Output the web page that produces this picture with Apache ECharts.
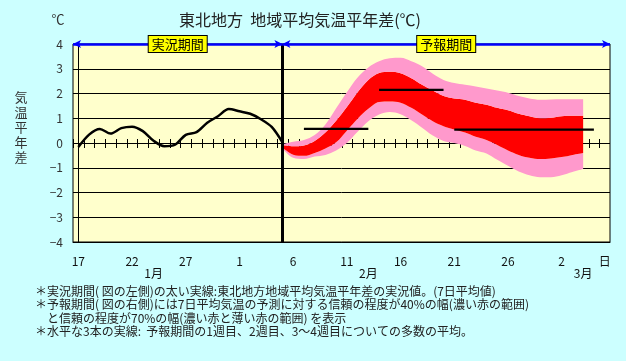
<!DOCTYPE html>
<html><head><meta charset="utf-8">
<script src="https://cdn.jsdelivr.net/npm/echarts@6/dist/echarts.min.js"></script>
<style>html,body{margin:0;padding:0;background:#CCFFFF}#c{width:626px;height:361px}</style>
</head><body><div id="c"></div>
<script>
const categories = ['1/17','1/18','1/19','1/20','1/21','1/22','1/23','1/24','1/25','1/26','1/27','1/28','1/29','1/30','1/31',
 '2/1','2/2','2/3','2/4','2/5','2/6','2/7','2/8','2/9','2/10','2/11','2/12','2/13','2/14','2/15','2/16','2/17','2/18','2/19','2/20',
 '2/21','2/22','2/23','2/24','2/25','2/26','2/27','2/28','2/29','3/1','3/2','3/3','3/4','3/5','3/6'];
const tickCats  = ['1/17','1/22','1/27','2/1','2/6','2/11','2/16','2/21','2/26','3/2','3/6'];
const tickTexts = ['17','22','27','1','6','11','16','21','26','2','日'];
const monthCats  = ['1/24','2/13','3/4'];
const monthTexts = ['1月','2月','3月'];
const yTicks = [-4,-3,-2,-1,0,1,2,3,4];

const obsCats = ['1/17','1/18','1/19','1/20','1/21','1/22','1/23','1/24','1/25','1/26','1/27','1/28','1/29','1/30','1/31','2/1','2/2','2/3','2/4','2/5'];
const obsValues = [-0.16,0.34,0.57,0.38,0.6,0.66,0.48,0.09,-0.13,-0.07,0.33,0.44,0.82,1.08,1.37,1.28,1.18,0.96,0.65,0.03];

const bandCats = ['2/5','2/6','2/7','2/8','2/9','2/10','2/11','2/12','2/13','2/14','2/15','2/16','2/17','2/18','2/19','2/20',
 '2/21','2/22','2/23','2/24','2/25','2/26','2/27','2/28','2/29','3/1','3/2','3/3','3/4'];
const pinkHi = [-0.05,0.05,0.12,0.32,0.75,1.4,2.05,2.65,3.05,3.3,3.42,3.44,3.3,3.1,2.8,2.55,2.42,2.35,2.28,2.2,2.12,2.03,1.9,1.8,1.75,1.76,1.77,1.77,1.77];
const redHi  = [-0.08,-0.13,-0.1,0.08,0.42,0.9,1.45,2.05,2.55,2.83,2.88,2.82,2.62,2.35,2.12,1.9,1.8,1.75,1.63,1.55,1.42,1.32,1.18,1.08,1.0,1.02,1.08,1.1,1.1];
const redLo  = [-0.18,-0.47,-0.52,-0.4,-0.22,0.03,0.5,0.98,1.38,1.66,1.68,1.63,1.42,1.15,0.88,0.68,0.55,0.42,0.25,0.12,-0.08,-0.3,-0.48,-0.6,-0.65,-0.63,-0.57,-0.48,-0.4];
const pinkLo = [-0.22,-0.6,-0.65,-0.55,-0.48,-0.3,0.0,0.45,0.88,1.15,1.25,1.16,0.92,0.62,0.3,0.08,0.0,-0.12,-0.3,-0.42,-0.68,-0.92,-1.15,-1.3,-1.38,-1.38,-1.3,-1.17,-1.05];

const weekStart = ['2/7','2/14','2/21'];
const weekEnd   = ['2/13','2/20','3/5'];
const weekValue = [0.57,2.15,0.54];

const periodNames = ['実況期間','予報期間'];
const forecastStart = '2/5';

const footnotes = [
 '＊実況期間( 図の左側)の太い実線:東北地方地域平均気温平年差の実況値。(7日平均値)',
 '＊予報期間( 図の右側)には7日平均気温の予測に対する信頼の程度が40%の幅(濃い赤の範囲)',
 '　と信頼の程度が70%の幅(濃い赤と薄い赤の範囲) を表示',
 '＊水平な3本の実線:  予報期間の1週目、2週目、3～4週目についての多数の平均。'
];

const FONT = "'Noto Sans CJK JP', sans-serif";
const chart = echarts.init(document.getElementById('c'), null, {renderer:'canvas'});

const pair = (cats, vals) => cats.map((c,i)=>[c, vals[i]]);
const diff = (a,b) => a.map((v,i)=>+(v-b[i]).toFixed(3));
const fIdx = categories.indexOf(forecastStart);
const leftEdge = -0.5, rightEdge = categories.length - 0.5;

const bandCommon = {type:'line', stack:'band', stackStrategy:'all', smooth:0.35, showSymbol:false, symbol:'none',
  lineStyle:{width:0}, xAxisIndex:0, yAxisIndex:0, z:2, silent:true};

const series = [
  {type:'custom', xAxisIndex:0, yAxisIndex:0, z:1, silent:true,
   data: categories.map((c,i)=>[i,0]),
   renderItem:(params, api)=>{
     const p = api.coord([api.value(0), 0]);
     const w = api.size([1,0])[0];
     const x = Math.round(p[0] - w/2) + 0.5;
     return {type:'line', shape:{x1:x, y1:p[1]-4, x2:x, y2:p[1]+5}, style:{stroke:'#000', lineWidth:1}};
   }},
  Object.assign({}, bandCommon, {name:'base', data: pair(bandCats, pinkLo)}),
  Object.assign({}, bandCommon, {name:'p70lo', data: pair(bandCats, diff(redLo, pinkLo)), areaStyle:{color:'#FF99CC', opacity:1}}),
  Object.assign({}, bandCommon, {name:'p40', data: pair(bandCats, diff(redHi, redLo)), areaStyle:{color:'#FF0000', opacity:1}}),
  Object.assign({}, bandCommon, {name:'p70hi', data: pair(bandCats, diff(pinkHi, redHi)), areaStyle:{color:'#FF99CC', opacity:1}}),
  {type:'line', name:'obs', data: pair(obsCats, obsValues), smooth:0.3, symbol:'none', z:4,
   lineStyle:{color:'#000', width:2.5}}
];
weekValue.forEach((v,i)=>{
  series.push({type:'line', data:[[weekStart[i], v],[weekEnd[i], v]], symbol:'none', z:4,
    lineStyle:{color:'#000', width:2.2}});
});
series.push({
  type:'line', xAxisIndex:1, yAxisIndex:0, data:[[leftEdge,4],[rightEdge,4]], symbol:'none',
  lineStyle:{opacity:0}, z:6, silent:true,
  markLine:{
    silent:true, animation:false, symbol:'none', z:6,
    lineStyle:{color:'#000', width:3, type:'solid'},
    label:{show:false},
    data:[{xAxis: fIdx}]
  }
});
series.push({
  type:'line', xAxisIndex:1, yAxisIndex:0, data:[[leftEdge,4],[rightEdge,4]], symbol:'none',
  lineStyle:{opacity:0}, z:7, silent:true,
  markLine:{
    silent:true, animation:false, symbol:['arrow','arrow'], symbolSize:[6,8], z:7,
    lineStyle:{color:'#0000FF', width:2.5, type:'solid'},
    label:{show:true, position:'middle', distance:0, verticalAlign:'middle', formatter: p=>p.name,
      backgroundColor:'#FFFF00', borderColor:'#000', borderWidth:1, padding:[2,3,1,3],
      color:'#000', fontSize:13, fontFamily:FONT},
    data:[
      [{name:periodNames[0], coord:[leftEdge,4]},{coord:[fIdx,4]}],
      [{name:periodNames[1], coord:[fIdx,4]},{coord:[rightEdge,4]}]
    ]
  }
});

const graphics = [
  {type:'text', x:300, y:20, style:{text:'東北地方  地域平均気温平年差(℃)', font:'16px '+FONT, fill:'#222', textAlign:'center', textVerticalAlign:'middle'}},
  {type:'text', x:58, y:19, style:{text:'℃', font:'13px '+FONT, fill:'#333', textAlign:'center', textVerticalAlign:'middle'}},
  {type:'text', x:21, y:90, style:{text:'気\n温\n平\n年\n差', font:'13px '+FONT, fill:'#333', textAlign:'center', textVerticalAlign:'top', lineHeight:15}}
];
footnotes.forEach((t,i)=>{
  graphics.push({type:'text', x:35, y:[291,304.5,318,331.5][i], style:{text:t, font:'12px '+FONT, fill:'#222', textAlign:'left', textVerticalAlign:'middle'}});
});

chart.setOption({
  animation:false,
  backgroundColor:'#CCFFFF',
  grid:{left:73, right:16, top:44, bottom:119, show:true, backgroundColor:'#FFFFCC', borderColor:'#000', borderWidth:1},
  xAxis:[
    {type:'category', data:categories, position:'bottom', boundaryGap:true,
     axisLine:{show:true, onZero:false, lineStyle:{color:'#000'}}, axisTick:{show:false}, splitLine:{show:false},
     axisLabel:{interval:(i,v)=>tickCats.indexOf(v)>=0, formatter:(v)=>tickTexts[tickCats.indexOf(v)] || '',
       margin:13, fontSize:12, color:'#111', fontFamily:FONT, hideOverlap:false}},
    {type:'value', min:leftEdge, max:rightEdge, show:false},
    {type:'category', data:categories, position:'bottom', boundaryGap:true,
     axisLine:{show:false, onZero:false}, axisTick:{show:false}, splitLine:{show:false},
     axisLabel:{interval:(i,v)=>monthCats.indexOf(v)>=0, formatter:(v)=>monthTexts[monthCats.indexOf(v)] || '',
       margin:25, fontSize:12, color:'#111', fontFamily:FONT, hideOverlap:false}}
  ],
  yAxis:[{type:'value', min:yTicks[0], max:yTicks[yTicks.length-1], interval:1,
    axisLine:{show:true, lineStyle:{color:'#000'}}, axisTick:{show:false},
    splitLine:{show:true, lineStyle:{color:'#000', width:1}},
    axisLabel:{formatter:v=>String(v).replace('-','−'), margin:10, fontSize:12, color:'#333', fontFamily:FONT}}],
  series: series,
  graphic: graphics
});
</script></body></html>
